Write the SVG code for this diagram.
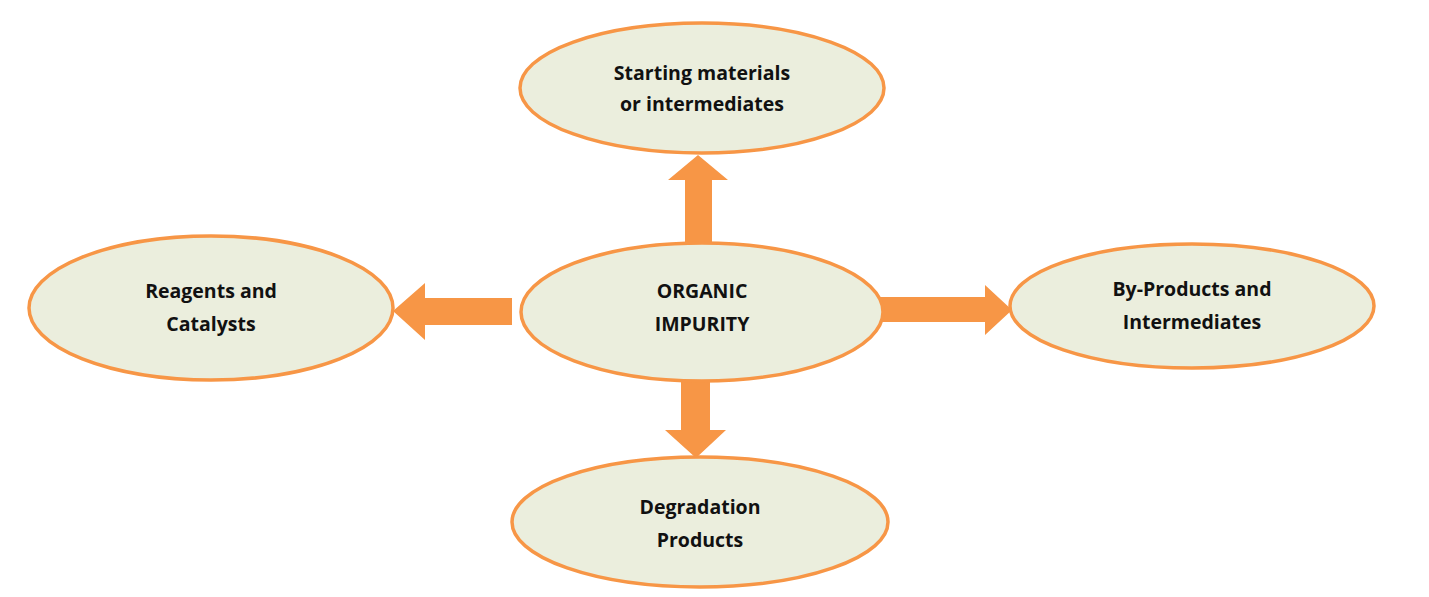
<svg xmlns="http://www.w3.org/2000/svg" width="1429" height="597" viewBox="0 0 1429 597">
<style>
.n{fill:#EBEEDD;stroke:#F79646;stroke-width:3.5}
.t{font-family:"Open Sans","Liberation Sans",sans-serif;font-weight:bold;font-size:19.5px;fill:#111;text-anchor:middle}
.a{fill:#F79646}
</style>
<rect width="1429" height="597" fill="#fff"/>
<g id="connectors">
<polygon class="a" points="685,242 685,180 668,180 698,155 728,180 712,180 712,242"/>
<polygon class="a" points="512,298 425,298 425,283 393,311 425,340 425,325 512,325"/>
<polygon class="a" points="880,297 985,297 985,285 1012,310 985,335 985,322 880,322"/>
<polygon class="a" points="681,378 681,430 665,430 696,458 726,430 710,430 710,378"/>
</g>
<g id="top"><ellipse class="n" cx="702" cy="88" rx="182" ry="65"/><text class="t" x="702" y="80">Starting materials</text><text class="t" x="702" y="111">or intermediates</text></g>
<g id="center"><ellipse class="n" cx="702" cy="312" rx="181" ry="69"/><text class="t" x="702" y="298">ORGANIC</text><text class="t" x="702" y="331">IMPURITY</text></g>
<g id="left"><ellipse class="n" cx="211" cy="308" rx="182" ry="72"/><text class="t" x="211" y="298">Reagents and</text><text class="t" x="211" y="331">Catalysts</text></g>
<g id="right"><ellipse class="n" cx="1192" cy="306" rx="182" ry="62"/><text class="t" x="1192" y="296">By-Products and</text><text class="t" x="1192" y="329">Intermediates</text></g>
<g id="bottom"><ellipse class="n" cx="700" cy="522" rx="188" ry="65"/><text class="t" x="700" y="514">Degradation</text><text class="t" x="700" y="547">Products</text></g>
</svg>
